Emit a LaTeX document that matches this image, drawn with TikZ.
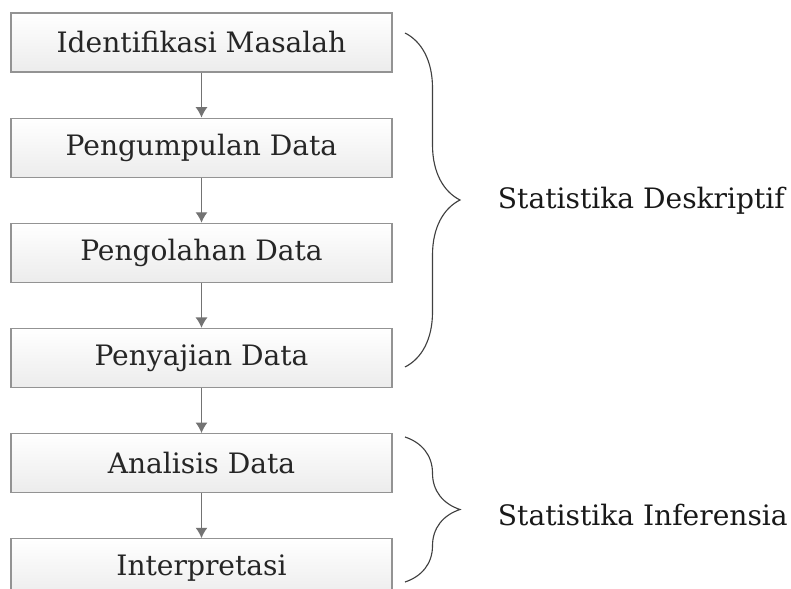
\documentclass[tikz,border=0pt]{standalone}
\usepackage{fontspec}
\setmainfont{DejaVu Serif}
\usetikzlibrary{positioning, decorations.pathreplacing, arrows.meta}

\begin{document}
\begin{tikzpicture}[>={Latex[length=2.6mm, width=3mm]}, x=0.025cm, y=-0.025cm,
    tahap/.style={draw=gray!85, line width=0.8pt, top color=white, bottom color=gray!15,
        minimum width=9.525cm, minimum height=1.475cm, inner sep=0pt, text=black!85,
        font=\fontsize{20}{24}\selectfont},
    panah/.style={->, gray!90!black, line width=0.9pt},
    kurung/.style={decorate, decoration={brace, amplitude=1.375cm}, line width=0.8pt, black!75},
    ket/.style={anchor=west, text=black!90, font=\fontsize{20}{24}\selectfont}]
    \clip (0,0) rectangle (791,589);

    % tahapan
    \node[tahap] (identifikasi) at (201.5,42.5) {Identifikasi Masalah};
    \node[tahap, below=1.125cm of identifikasi] (pengumpulan) {Pengumpulan Data};
    \node[tahap, below=1.125cm of pengumpulan] (pengolahan) {Pengolahan Data};
    \node[tahap, below=1.125cm of pengolahan] (penyajian) {Penyajian Data};
    \node[tahap, below=1.125cm of penyajian] (analisis) {Analisis Data};
    \node[tahap, below=1.125cm of analisis] (interpretasi) {Interpretasi};

    \foreach \a/\b in {identifikasi/pengumpulan, pengumpulan/pengolahan,
        pengolahan/penyajian, penyajian/analisis, analisis/interpretasi} {
        \draw[panah] (\a) -- (\b);
    }

    % kurung kurawal
    \draw[kurung] (405,33) -- (405,367);
    \node[ket] (deskriptif) at (493,201) {Statistika Deskriptif};
    \draw[kurung] (405,437) -- (405,582);
    \node[ket] (inferensia) at (493,515) {Statistika Inferensia};
\end{tikzpicture}
\end{document}
